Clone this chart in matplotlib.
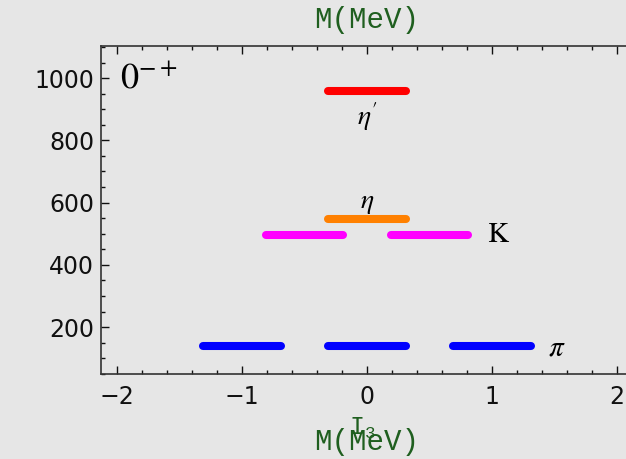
import matplotlib.pyplot as plt

# meson data: name, mass (MeV), I3 values, colour
names = ["pi", "K", "eta", "etap"]
masses = [138, 495, 548, 958]
i3_values = [[-1, 0, 1], [-0.5, 0.5], [0], [0]]
colors = ["#0000ff", "#ff00ff", "#ff8000", "#ff0000"]

x_ticks = [-2, -1, 0, 1, 2]
y_ticks = [200, 400, 600, 800, 1000]

plt.rcParams['mathtext.fontset'] = 'stix'

bg = "#e6e6e6"
fig = plt.figure(figsize=(6.26, 4.59), dpi=100, facecolor=bg)
ax = fig.add_axes([0.1613, 0.185, 0.85, 0.7146], facecolor=bg)

# draw each level as a short thick segment
half = 0.31
for m, i3s, c in zip(masses, i3_values, colors):
    for i3 in i3s:
        ax.plot([i3 - half, i3 + half], [m, m], color=c, lw=5.8,
                solid_capstyle='round')

ax.set_xlim(-2.13, 2.13)
ax.set_ylim(49, 1103)
ax.set_xticks(x_ticks)
ax.set_yticks(y_ticks)
ax.set_xticklabels(["\u22122", "\u22121", "0", "1", "2"])
ax.set_xticks([x / 5 for x in range(-10, 11)], minor=True)
ax.set_yticks(range(50, 1101, 50), minor=True)
ax.tick_params(which='both', direction='in', top=True, right=False,
               labelsize=17, colors='#111111', width=1)
ax.tick_params(which='major', length=6, pad=5)
ax.tick_params(which='minor', length=3)
ax.tick_params(axis='x', which='major', pad=8)
for s in ax.spines.values():
    s.set_color('#333333')
    s.set_linewidth(1.2)

# level labels
ax.text(-1.98, 1000, r"$0^{-+}$", fontsize=26, va='center', ha='left')
ax.text(0, 875, r"$\eta^{\prime}$", fontsize=20, ha='center', va='center')
ax.text(0, 602, r"$\eta$", fontsize=20, ha='center', va='center')
ax.text(0.96, 499, r"$\mathrm{K}$", fontsize=21, ha='left', va='center')
ax.text(1.45, 136, r"$\pi$", fontsize=21, ha='left', va='center')

# axis titles
green = "#1f5f1f"
fig.text(367 / 626, 1 - 20 / 459, "M(MeV)", fontsize=21, color=green,
         family='Liberation Mono', ha='center', va='center')
fig.text(362 / 626, 1 - 428 / 459, r"$\mathregular{I_3}$", fontsize=18,
         color=green, family='Liberation Mono', ha='center', va='center')
fig.text(367 / 626, 1 - 442 / 459, "M(MeV)", fontsize=21, color=green,
         family='Liberation Mono', ha='center', va='center')

fig.savefig("out.png", dpi=100, facecolor=bg)
